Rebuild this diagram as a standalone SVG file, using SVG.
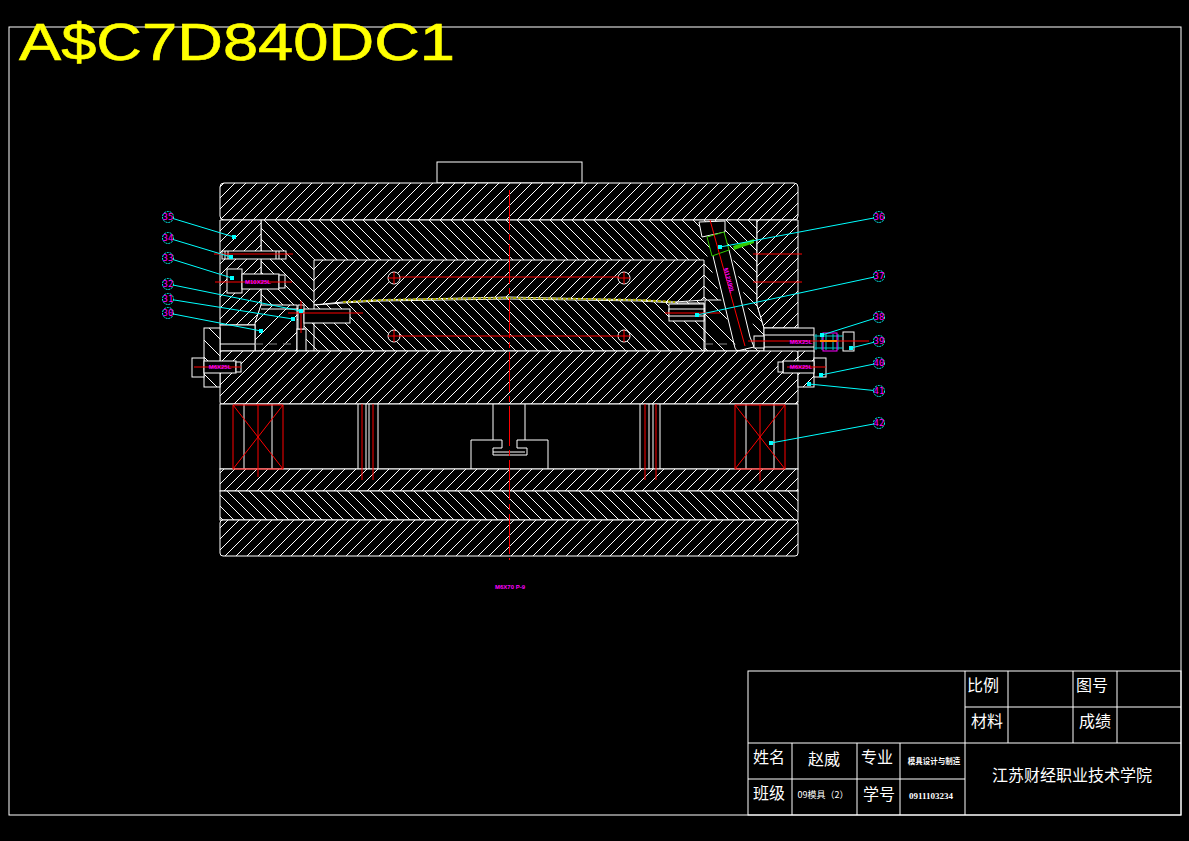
<svg xmlns="http://www.w3.org/2000/svg" width="1189" height="841" viewBox="0 0 1189 841">
<style>
.w{fill:none;stroke:#fff;stroke-width:1}
.k{fill:#000;stroke:#fff;stroke-width:1}
.r{fill:none;stroke:#f00;stroke-width:1}
.c{fill:none;stroke:#0ff;stroke-width:1}
.d{fill:#0ff}
.h1{fill:url(#h1);stroke:#fff}
.h2{fill:url(#h2);stroke:#fff}
.h3{fill:url(#h3);stroke:#fff}
.h4{fill:url(#h4);stroke:#fff}
.b{fill:#000;stroke:#0ff;stroke-width:1;stroke-dasharray:2 1}
.n{font-family:"DejaVu Sans Mono","Liberation Mono",monospace;font-size:9px;fill:#f0f;text-anchor:middle}
.m{font-family:"Liberation Sans",sans-serif;font-size:6px;font-weight:bold;fill:#f0f;text-anchor:middle}
.t{font-family:"Noto Sans CJK SC",sans-serif;fill:#fff;text-anchor:middle;font-size:16px}
</style>
<defs>
<pattern id="h1" patternUnits="userSpaceOnUse" width="11" height="11"><rect width="11" height="11" fill="#000"/><path d="M-1 12L12 -1M-1 1L1 -1M10 12L12 10" stroke="#fff" stroke-width="1"/></pattern>
<pattern id="h2" patternUnits="userSpaceOnUse" width="11" height="11"><rect width="11" height="11" fill="#000"/><path d="M-1 -1L12 12M-1 10L1 12M10 -1L12 1" stroke="#fff" stroke-width="1"/></pattern>
<pattern id="h3" patternUnits="userSpaceOnUse" width="17" height="17"><rect width="17" height="17" fill="#000"/><path d="M-1 18L18 -1" stroke="#fff" stroke-width="1"/></pattern>
<pattern id="h4" patternUnits="userSpaceOnUse" width="17" height="17"><rect width="17" height="17" fill="#000"/><path d="M-1 -1L18 18" stroke="#fff" stroke-width="1"/></pattern>
</defs>
<rect width="1189" height="841" fill="#000"/>
<rect id="frame" x="9" y="27" width="1172" height="788" class="w"/>
<text id="stamp" x="19" y="60" font-family="Liberation Sans,sans-serif" font-size="52" fill="#ff0" stroke="#ff0" stroke-width="0.6" textLength="436" lengthAdjust="spacingAndGlyphs">A$C7D840DC1</text>

<g id="mould">
<rect x="437" y="162" width="145" height="21" class="k"/>
<rect x="220" y="183" width="578" height="37" rx="4" class="h1"/>
<polygon points="261,220 757,220 757,305 764,328 764,351 261,351" class="h2"/>
<polygon points="220,220 261,220 261,305 255,325 220,325" class="h1"/>
<polygon points="757,220 798,220 798,328 764,328 757,305" class="h1"/>
<polygon points="314,260 704,260 704,300 675,302 640,300 509,297 380,300 343,302 314,305" class="h1"/>
<polygon points="314,305 343,303 380,301 509,299 640,301 675,303 704,303 704,351 314,351" class="h2"/>
<polyline points="343,302 380,300 430,299 509,298 590,299 640,300 675,302" fill="none" stroke="#aa0" stroke-width="2" stroke-dasharray="3 2"/>
<polygon points="255,351 255,323 261,305 297,305 297,351" class="h3"/>
<polygon points="705,351 705,300 730,300 738,351" class="h4"/>
<rect x="220" y="325" width="35" height="26" class="k"/>
<line x1="220" y1="344" x2="255" y2="344" class="w"/>
<line x1="255" y1="344" x2="305" y2="344" stroke="#888" stroke-dasharray="8 6"/>
<line x1="705" y1="344" x2="764" y2="344" stroke="#888" stroke-dasharray="8 6"/>
<rect x="297" y="329" width="9" height="22" class="k"/>
<rect x="298" y="305" width="6" height="24" class="k"/>
<rect x="304" y="309" width="46" height="14" class="k"/>
<line x1="261" y1="309" x2="298" y2="309" class="w"/>
<rect x="669" y="304" width="35" height="17" class="k"/>
<rect x="669" y="309" width="35" height="7" class="k"/>
<circle cx="394" cy="278" r="6" class="k"/>
<circle cx="624" cy="278" r="6" class="k"/>
<circle cx="394" cy="336" r="6" class="k"/>
<circle cx="624" cy="336" r="6" class="k"/>
<polygon points="699,222 725,221 725,232 702,237" class="k"/>
<polygon points="707,255 730,249 760,347 737,350" fill="#000" stroke="none"/>
<line x1="713" y1="256" x2="735" y2="348" class="w"/>
<line x1="729" y1="250" x2="750" y2="337" class="w"/>
<polyline points="750,337 754,347 737,351 735,348" class="w"/>
<polygon points="707,237 724,232 729,250 712,256" fill="#000" stroke="#3c0" stroke-width="1"/>
<polygon points="733,246 754,239 754,243 734,250" fill="#3c0"/>
<rect x="764" y="328" width="50" height="24" class="k"/>
<line x1="764" y1="335" x2="814" y2="335" class="w"/>
<line x1="764" y1="347" x2="814" y2="347" class="w"/>
<rect x="754" y="336" width="10" height="12" class="k"/>
<rect x="220" y="351" width="578" height="53" rx="2" class="h1"/>
<rect x="204" y="328" width="16" height="59" class="h4"/>
<rect x="798" y="351" width="16" height="36" class="h3"/>
<rect x="220" y="404" width="578" height="65" class="k"/>
<rect x="220" y="469" width="578" height="22" class="h1"/>
<rect x="220" y="491" width="578" height="29" class="h2"/>
<rect x="220" y="520" width="578" height="36" rx="3" class="h1"/>
<path d="M244 404V469M272 404V469M358 404V469M366 404V469M369 404V469M378 404V469M640 404V469M649 404V469M653 404V469M660 404V469M746 404V469M774 404V469M493 404V440M525 404V440" class="w"/>
<path d="M471 469V440H502V448H493V455H527V448H517V440H548V469M493 452H525" class="w"/>
<rect x="222" y="251" width="64" height="8" class="k"/>
<path d="M225 251V259M228 251V259M276 251V259M279 251V259" class="w"/>
<rect x="227" y="269" width="15" height="24" class="k"/>
<rect x="242" y="274" width="37" height="15" class="k"/>
<rect x="279" y="275" width="6" height="13" class="k"/>
<rect x="192" y="358" width="12" height="19" class="k"/>
<rect x="204" y="361" width="32" height="12" class="k"/>
<rect x="236" y="362" width="5" height="10" class="k"/>
<rect x="814" y="358" width="12" height="19" class="k"/>
<rect x="783" y="361" width="31" height="12" class="k"/>
<rect x="778" y="362" width="5" height="10" class="k"/>
<rect x="843" y="332" width="11" height="19" class="k"/>
<path d="M814 336H843M814 348H843M816 334V350M822 334V350M826 334V350M833 334V350M838 334V350" stroke="#0cc" fill="none"/>
<rect x="823" y="333" width="14" height="18" fill="none" stroke="#f0f"/>
<line x1="820" y1="341" x2="837" y2="341" stroke="#ff0" stroke-width="2"/>
</g>

<g id="centerlines">
<path d="M509.500 190V560" class="r" stroke-dasharray="40 4 6 4"/>
<path d="M388 278H400M394 272V284M618 278H630M624 272V284M388 336H400M394 330V342M618 336H630M624 330V342" class="r"/>
<path d="M400 277H619M400 336H619" class="r"/>
<path d="M214 254H293M215 282H292M194 367H241M288 313H363M301 301V333M665 313H720M748 341H869M787 367H826M753 254H802M753 282H802" class="r"/>
<path d="M710 220L745 346" class="r"/>
<path d="M233 405V469H283V405ZM233 405L283 469M283 405L233 469M258 404V477M735 405V469H785V405ZM735 405L785 469M785 405L735 469M760 404V481M362 404V480M373 404V480M645 404V480M656 404V480" class="r"/>
</g>

<g id="connectors">
<path d="M168 217L234 237M168 238L231 257M168 258L232 278M168 284L301 311M168 299L293 319M168 313L261 331M879 217L720 247M879 276L697 315M879 317L822 335M879 341L851 348M879 363L821 375M879 391L809 384M879 423L771 443" class="c"/>
<path d="M232 235h4v4h-4zM229 255h4v4h-4zM230 276h4v4h-4zM299 309h4v4h-4zM291 317h4v4h-4zM259 329h4v4h-4zM718 245h4v4h-4zM695 313h4v4h-4zM820 333h4v4h-4zM849 346h4v4h-4zM819 373h4v4h-4zM807 382h4v4h-4zM769 441h4v4h-4z" class="d"/>
</g>

<g id="b35"><circle cx="168" cy="217" r="5.500" class="b"/><text x="168" y="220" class="n">35</text></g>
<g id="b34"><circle cx="168" cy="238" r="5.500" class="b"/><text x="168" y="241" class="n">34</text></g>
<g id="b33"><circle cx="168" cy="258" r="5.500" class="b"/><text x="168" y="261" class="n">33</text></g>
<g id="b32"><circle cx="168" cy="284" r="5.500" class="b"/><text x="168" y="287" class="n">32</text></g>
<g id="b31"><circle cx="168" cy="299" r="5.500" class="b"/><text x="168" y="302" class="n">31</text></g>
<g id="b30"><circle cx="168" cy="313" r="5.500" class="b"/><text x="168" y="316" class="n">30</text></g>
<g id="b36"><circle cx="879" cy="217" r="5.500" class="b"/><text x="879" y="220" class="n">36</text></g>
<g id="b37"><circle cx="879" cy="276" r="5.500" class="b"/><text x="879" y="279" class="n">37</text></g>
<g id="b38"><circle cx="879" cy="317" r="5.500" class="b"/><text x="879" y="320" class="n">38</text></g>
<g id="b39"><circle cx="879" cy="341" r="5.500" class="b"/><text x="879" y="344" class="n">39</text></g>
<g id="b40"><circle cx="879" cy="363" r="5.500" class="b"/><text x="879" y="366" class="n">40</text></g>
<g id="b41"><circle cx="879" cy="391" r="5.500" class="b"/><text x="879" y="394" class="n">41</text></g>
<g id="b42"><circle cx="879" cy="423" r="5.500" class="b"/><text x="879" y="426" class="n">42</text></g>

<g id="labels">
<text x="258" y="284" class="m">M10X25L</text>
<text x="220" y="369" class="m">M6X25L</text>
<text x="801" y="369" class="m">M6X25L</text>
<text x="801" y="344" class="m">M6X25L</text>
<text transform="translate(727 281) rotate(75)" class="m">M12X90L</text>
<text x="510" y="589" class="m">M6X70 P-9</text>
</g>

<g id="titleblock">
<rect x="748" y="671" width="433" height="144" class="w"/>
<path d="M965 671V815M1008 671V743M1073 671V743M1117 671V743M965 707H1181M748 743H1181M748 779H965M792 743V815M857 743V815M900 743V815" class="w"/>
<text x="983" y="691" class="t">比例</text>
<text x="1092" y="691" class="t">图号</text>
<text x="987" y="727" class="t">材料</text>
<text x="1095" y="727" class="t">成绩</text>
<text x="769" y="763" class="t">姓名</text>
<text x="824" y="765" class="t">赵威</text>
<text x="877" y="763" class="t">专业</text>
<text x="934" y="764" class="t" style="font-size:7.500px;font-weight:bold">模具设计与制造</text>
<text x="769" y="799" class="t">班级</text>
<text x="823" y="798" class="t" style="font-size:9px">09模具（2）</text>
<text x="879" y="800" class="t">学号</text>
<text x="931" y="799" class="t" style="font-size:9px;font-family:'Liberation Serif',serif;font-weight:bold">0911103234</text>
<text x="1072" y="781" class="t">江苏财经职业技术学院</text>
</g>
</svg>
